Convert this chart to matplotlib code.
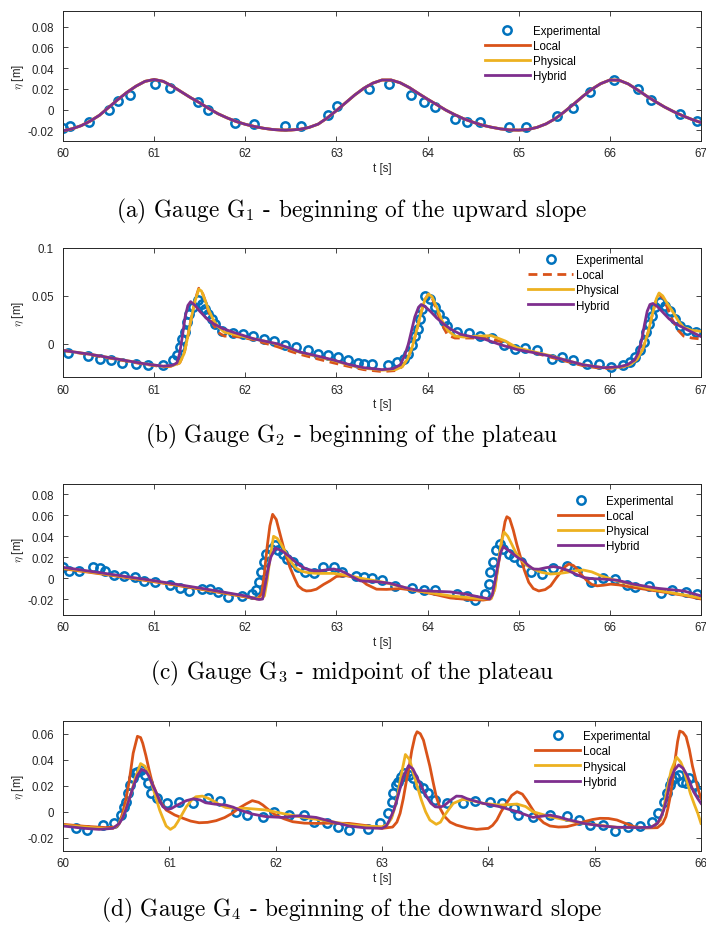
import numpy as np
import matplotlib
matplotlib.use("Agg")
import matplotlib.pyplot as plt

plt.rcParams['font.family'] = ['Liberation Sans', 'DejaVu Sans']
plt.rcParams['mathtext.fontset'] = 'cm'
plt.rcParams['axes.unicode_minus'] = False

# ---------------- colours ----------------
C_EXP = '#0072BD'
C_LOC = '#D95319'
C_PHY = '#EDB120'
C_HYB = '#7E2F8E'

series_names = ['Experimental', 'Local', 'Physical', 'Hybrid']
captions = [
    r'(a) Gauge $\mathrm{G}_1$ - beginning of the upward slope',
    r'(b) Gauge $\mathrm{G}_2$ - beginning of the plateau',
    r'(c) Gauge $\mathrm{G}_3$ - midpoint of the plateau',
    r'(d) Gauge $\mathrm{G}_4$ - beginning of the downward slope',
]
xlabel = 't [s]'
ylabel = r'$\eta$ [m]'

# ---------------- panel (a) ----------------
a_exp_t = [60.00, 60.08, 60.28, 60.51, 60.60, 60.74, 61.01, 61.17, 61.48, 61.59, 61.89, 62.10,
           62.44, 62.61, 62.91, 63.01, 63.36, 63.58, 63.82, 63.96, 64.08, 64.30, 64.43, 64.57,
           64.89, 65.08, 65.42, 65.60, 65.78, 66.05, 66.31, 66.45, 66.77, 66.96]
a_exp_y = [-0.0177, -0.0161, -0.0123, 0.0000, 0.0081, 0.0139, 0.0248, 0.0210, 0.0071, 0.0000,
           -0.0129, -0.0139, -0.0155, -0.0155, -0.0048, 0.0032, 0.0200, 0.0242, 0.0139, 0.0071,
           0.0023, -0.0087, -0.0119, -0.0119, -0.0171, -0.0171, -0.0065, 0.0016, 0.0168, 0.0281,
           0.0200, 0.0090, -0.0042, -0.0113]
a_mod_t = np.linspace(60.0, 67.0, 71)
a_mod_y = [-0.0205, -0.0185, -0.0155, -0.0110, -0.0055, 0.0020, 0.0095, 0.0165, 0.0225, 0.0272,
           0.0290, 0.0272, 0.0225, 0.0170, 0.0115, 0.0065, 0.0010, -0.0040, -0.0080, -0.0115,
           -0.0142, -0.0163, -0.0180, -0.0192, -0.0198, -0.0197, -0.0190, -0.0172, -0.0140, -0.0080,
           -0.0010, 0.0065, 0.0140, 0.0205, 0.0255, 0.0285, 0.0285, 0.0258, 0.0212, 0.0155,
           0.0100, 0.0048, -0.0005, -0.0050, -0.0090, -0.0122, -0.0150, -0.0170, -0.0186, -0.0196,
           -0.0198, -0.0192, -0.0172, -0.0138, -0.0088, -0.0022, 0.0050, 0.0125, 0.0195, 0.0250,
           0.0285, 0.0283, 0.0248, 0.0192, 0.0132, 0.0077, 0.0025, -0.0020, -0.0060, -0.0095,
           -0.0125]
a_loc_t, a_loc_y = a_mod_t, a_mod_y
a_phy_t, a_phy_y = a_mod_t, a_mod_y
a_hyb_t, a_hyb_y = a_mod_t, a_mod_y

# ---------------- panel (b) ----------------
b_exp_t = [60.06, 60.27, 60.41, 60.53, 60.65, 60.80, 60.93, 61.10, 61.21, 61.25, 61.28, 61.31,
           61.34, 61.36, 61.38, 61.43, 61.48, 61.52, 61.56, 61.59, 61.63, 61.67, 61.74, 61.87,
           61.98, 62.09, 62.20, 62.31, 62.44, 62.56, 62.69, 62.80, 62.91, 63.02, 63.13, 63.24,
           63.30, 63.39, 63.57, 63.66, 63.74, 63.79, 63.83, 63.86, 63.89, 63.92, 63.94, 63.97,
           64.03, 64.08, 64.13, 64.18, 64.21, 64.32, 64.45, 64.58, 64.71, 64.84, 64.96, 65.07,
           65.20, 65.37, 65.48, 65.60, 65.75, 65.88, 66.01, 66.14, 66.22, 66.28, 66.33, 66.37,
           66.40, 66.43, 66.46, 66.50, 66.55, 66.61, 66.66, 66.72, 66.77, 66.85, 66.94]
b_exp_y = [-0.0097, -0.0131, -0.0155, -0.0172, -0.0200, -0.0214, -0.0224, -0.0224, -0.0172,
           -0.0121, -0.0034, 0.0052, 0.0121, 0.0224, 0.0310, 0.0379, 0.0455, 0.0414, 0.0362,
           0.0310, 0.0259, 0.0207, 0.0138, 0.0114, 0.0103, 0.0086, 0.0052, 0.0034, -0.0017,
           -0.0034, -0.0069, -0.0103, -0.0121, -0.0138, -0.0172, -0.0200,
           -0.0214, -0.0214, -0.0224, -0.0190, -0.0155, -0.0103, -0.0017, 0.0086, 0.0155, 0.0259,
           0.0362, 0.0500, 0.0466, 0.0379, 0.0310, 0.0241, 0.0190, 0.0121, 0.0110, 0.0086,
           0.0062, -0.0017, -0.0052, -0.0041, -0.0069, -0.0155, -0.0138, -0.0172, -0.0214,
           -0.0214, -0.0241, -0.0224, -0.0190, -0.0138, -0.0069, 0.0017, 0.0121, 0.0207, 0.0293,
           0.0379, 0.0431, 0.0397, 0.0338, 0.0259, 0.0190, 0.0145, 0.0121]

b_hyb_t = [60.0, 60.3, 60.6, 60.9, 61.1, 61.2, 61.25, 61.28, 61.31, 61.34, 61.37, 61.40, 61.45,
           61.5, 61.58, 61.65, 61.75, 61.87, 62.0, 62.1, 62.2, 62.35, 62.5, 62.6, 62.8, 62.97,
           63.15, 63.3, 63.5, 63.62, 63.7, 63.75, 63.79, 63.83, 63.86, 63.9, 63.93, 63.97, 64.03,
           64.1, 64.17, 64.26, 64.36, 64.5, 64.62, 64.8, 64.98, 65.15, 65.35, 65.55, 65.71, 65.93,
           66.1, 66.19, 66.27, 66.31, 66.35, 66.38, 66.41, 66.44, 66.47, 66.52, 66.58, 66.65,
           66.72, 66.85, 67.0]
b_hyb_y = [-0.0069, -0.011, -0.016, -0.021, -0.0234, -0.0225, -0.020, -0.010, 0.008, 0.028,
           0.040, 0.044, 0.040, 0.034, 0.026, 0.021, 0.016, 0.012, 0.008, 0.005, 0.003, 0.0,
           -0.005, -0.0086, -0.013, -0.017, -0.022, -0.025, -0.027, -0.026, -0.022, -0.012, 0.0,
           0.016, 0.028, 0.038, 0.041, 0.039, 0.034, 0.027, 0.021, 0.015, 0.010, 0.007, 0.005,
           -0.001, -0.006, -0.009, -0.013, -0.018, -0.022, -0.025, -0.024, -0.022, -0.017,
           -0.010, 0.004, 0.020, 0.034, 0.041, 0.042, 0.039, 0.033, 0.026, 0.021, 0.0145, 0.0076]

b_phy_t = [60.0, 60.3, 60.6, 60.9, 61.1, 61.2, 61.28, 61.33, 61.37, 61.41, 61.45, 61.49, 61.52,
           61.56, 61.6, 61.65, 61.7, 61.77, 61.87, 62.0, 62.1, 62.2, 62.35, 62.5, 62.6, 62.8,
           62.97, 63.15, 63.3, 63.5, 63.65, 63.72, 63.78, 63.83, 63.88, 63.93, 63.97, 64.01,
           64.05, 64.1, 64.16, 64.22, 64.3, 64.4, 64.55, 64.7, 64.85, 64.98, 65.15, 65.35, 65.55,
           65.71, 65.93, 66.1, 66.22, 66.3, 66.36, 66.42, 66.47, 66.51, 66.54, 66.58, 66.63,
           66.68, 66.75, 66.81, 66.9, 67.0]
b_phy_y = [-0.0069, -0.011, -0.016, -0.021, -0.0236, -0.023, -0.020, -0.010, 0.008, 0.028,
           0.045, 0.057, 0.055, 0.045, 0.035, 0.025, 0.018, 0.012, 0.010, 0.007, 0.005, 0.003,
           -0.0005, -0.0055, -0.009, -0.0135, -0.0175, -0.0225, -0.0255, -0.0275, -0.027,
           -0.024, -0.016, -0.004, 0.014, 0.033, 0.046, 0.052, 0.049, 0.038, 0.024, 0.014, 0.008,
           0.007, 0.008, 0.0085, 0.003, -0.004, -0.008, -0.0125, -0.018, -0.022, -0.025, -0.0245,
           -0.022, -0.016, -0.006, 0.012, 0.032, 0.047, 0.053, 0.050, 0.042, 0.035, 0.024, 0.017,
           0.014, 0.013]

b_loc_t = b_phy_t
b_loc_y = [-0.007, -0.0115, -0.0165, -0.0215, -0.024, -0.0235, -0.020, -0.010, 0.008, 0.028,
           0.046, 0.058, 0.056, 0.045, 0.033, 0.020, 0.012, 0.008, 0.008, 0.006, 0.004, 0.001,
           -0.003, -0.008, -0.011, -0.016, -0.020, -0.024, -0.027, -0.029, -0.028, -0.024,
           -0.016, -0.004, 0.014, 0.033, 0.046, 0.052, 0.048, 0.035, 0.020, 0.009, 0.006, 0.006,
           0.006, 0.005, 0.001, -0.005, -0.009, -0.014, -0.019, -0.023, -0.026, -0.025, -0.022,
           -0.016, -0.006, 0.012, 0.032, 0.047, 0.052, 0.048, 0.038, 0.026, 0.014, 0.008, 0.006,
           0.005]

# ---------------- panel (c) ----------------
c_exp_t = [60.00, 60.07, 60.18, 60.33, 60.41, 60.46, 60.56, 60.67, 60.79, 60.89, 61.01, 61.17,
           61.28, 61.38, 61.52, 61.61, 61.70, 61.81, 61.96, 62.07, 62.12, 62.15, 62.17, 62.20,
           62.23, 62.28, 62.33, 62.36, 62.41, 62.46, 62.52, 62.58, 62.66, 62.75, 62.85, 62.97,
           63.06, 63.21, 63.30, 63.39, 63.50, 63.64, 63.83, 63.96, 64.08, 64.32, 64.43, 64.52,
           64.63, 64.67, 64.69, 64.72, 64.75, 64.79, 64.83, 64.89, 64.95, 65.02, 65.13, 65.26,
           65.38, 65.53, 65.64, 65.79, 65.93, 66.06, 66.19, 66.28, 66.43, 66.56, 66.68, 66.83,
           66.96]
c_exp_y = [0.0110, 0.0071, 0.0065, 0.0103, 0.0097, 0.0071, 0.0032, 0.0023, 0.0006, -0.0026,
           -0.0035, -0.0068, -0.0090, -0.0123, -0.0106, -0.0106, -0.0129, -0.0181, -0.0171,
           -0.0155, -0.0116, -0.0042, 0.0055, 0.0152, 0.0232, 0.0281, 0.0313, 0.0265, 0.0232,
           0.0184, 0.0152, 0.0103, 0.0055, 0.0045, 0.0103, 0.0110, 0.0055, 0.0023, 0.0013, 0.0000,
           -0.0019, -0.0074, -0.0097, -0.0116, -0.0116, -0.0148, -0.0171, -0.0210, -0.0155,
           -0.0058, 0.0055, 0.0152, 0.0265, 0.0323, 0.0281, 0.0232, 0.0200, 0.0152, 0.0055,
           0.0039, 0.0097, 0.0119, 0.0071, -0.0042, 0.0000, -0.0010, -0.0065, -0.0084, -0.0074,
           -0.0139, -0.0116, -0.0129, -0.0155]

c_hyb_t = [60.0, 60.5, 61.0, 61.5, 62.0, 62.15, 62.19, 62.22, 62.25, 62.28, 62.33, 62.38, 62.42,
           62.48, 62.53, 62.60, 62.67, 62.75, 62.82, 62.90, 62.97, 63.03, 63.10, 63.18, 63.26,
           63.33, 63.45, 63.59, 63.75, 63.88, 64.05, 64.25, 64.40, 64.51, 64.62, 64.68, 64.71,
           64.74, 64.77, 64.80, 64.83, 64.88, 64.94, 65.00, 65.05, 65.10, 65.16, 65.22, 65.30,
           65.38, 65.45, 65.53, 65.62, 65.71, 65.80, 65.93, 66.08, 66.26, 66.52, 66.81, 67.00]
c_hyb_y = [0.0103, 0.0040, -0.0025, -0.0095, -0.0170, -0.0205, -0.0200, -0.0060, 0.0090,
           0.0200, 0.0287, 0.0270, 0.0250, 0.0210, 0.0170, 0.0120, 0.0087, 0.0070, 0.0070,
           0.0080, 0.0087, 0.0075, 0.0050, 0.0010, -0.0026, -0.0030, -0.0035, -0.0050, -0.0090,
           -0.0116, -0.0125, -0.0132, -0.0150, -0.0170, -0.0190, -0.0200, -0.0160, -0.0030,
           0.0120, 0.0240, 0.0300, 0.0270, 0.0230, 0.0190, 0.0170, 0.0125, 0.0087, 0.0085,
           0.0100, 0.0110, 0.0100, 0.0077, 0.0040, 0.0006, -0.0005, -0.0010, -0.0020, -0.0058,
           -0.0097, -0.0123, -0.0170]

c_phy_t = [60.0, 60.5, 61.0, 61.5, 62.0, 62.17, 62.21, 62.24, 62.27, 62.31, 62.35, 62.39, 62.44,
           62.49, 62.55, 62.62, 62.70, 62.80, 62.97, 63.15, 63.26, 63.52, 63.88, 64.25, 64.61,
           64.70, 64.74, 64.78, 64.81, 64.84, 64.88, 64.92, 64.97, 65.02, 65.09, 65.16, 65.25,
           65.35, 65.45, 65.53, 65.62, 65.71, 65.80, 65.90, 66.08, 66.45, 66.81, 67.00]
c_phy_y = [0.0095, 0.0035, -0.0030, -0.0100, -0.0175, -0.0200, -0.0170, -0.0020, 0.0180,
           0.0400, 0.0380, 0.0330, 0.0250, 0.0170, 0.0100, 0.0065, 0.0050, 0.0045, 0.0045,
           0.0023, 0.0000, -0.0040, -0.0120, -0.0170, -0.0200, -0.0195, -0.0100, 0.0170, 0.0350,
           0.0440, 0.0400, 0.0330, 0.0240, 0.0180, 0.0120, 0.0087, 0.0055, 0.0039, 0.0045,
           0.0055, 0.0070, 0.0077, 0.0060, 0.0023, -0.0026, -0.0106, -0.0160, -0.0190]

c_loc_t = [60.0, 60.5, 61.0, 61.5, 62.0, 62.13, 62.18, 62.21, 62.24, 62.27, 62.30, 62.34, 62.38,
           62.43, 62.49, 62.54, 62.58, 62.63, 62.67, 62.72, 62.78, 62.86, 62.93, 63.00, 63.11,
           63.20, 63.26, 63.33, 63.44, 63.55, 63.70, 63.88, 64.05, 64.25, 64.45, 64.61, 64.69,
           64.73, 64.76, 64.79, 64.82, 64.85, 64.87, 64.90, 64.94, 64.98, 65.02, 65.06, 65.11,
           65.16, 65.22, 65.29, 65.35, 65.41, 65.46, 65.51, 65.55, 65.60, 65.64, 65.70, 65.75,
           65.80, 65.86, 65.93, 66.01, 66.10, 66.26, 66.45, 66.63, 66.81, 67.00]
c_loc_y = [0.0090, 0.0030, -0.0035, -0.0105, -0.0180, -0.0200, -0.0150, 0.0050, 0.0300, 0.0500,
           0.0610, 0.0560, 0.0426, 0.0260, 0.0103, 0.0000, -0.0074, -0.0110, -0.0123, -0.0120,
           -0.0106, -0.0060, -0.0026, 0.0016, 0.0023, 0.0005, -0.0010, -0.0060, -0.0106, -0.0108,
           -0.0100, -0.0120, -0.0150, -0.0190, -0.0205, -0.0210, -0.0200, -0.0120, 0.0040,
           0.0200, 0.0390, 0.0540, 0.0587, 0.0570, 0.0460, 0.0320, 0.0200, 0.0080, -0.0040,
           -0.0100, -0.0123, -0.0110, -0.0074, 0.0000, 0.0055, 0.0110, 0.0135, 0.0120, 0.0087,
           0.0020, -0.0026, -0.0060, -0.0074, -0.0068, -0.0058, -0.0065, -0.0090, -0.0115,
           -0.0139, -0.0165, -0.0200]

# ---------------- panel (d) ----------------
d_exp_t = [60.12, 60.23, 60.38, 60.48, 60.55, 60.57, 60.59, 60.61, 60.63, 60.66, 60.68, 60.70,
           60.73, 60.77, 60.80, 60.83, 60.88, 60.98, 61.09, 61.22, 61.36, 61.48, 61.63, 61.73,
           61.88, 61.98, 62.13, 62.27, 62.36, 62.48, 62.59, 62.69, 62.87, 62.98, 63.06, 63.09,
           63.10, 63.13, 63.15, 63.18, 63.21, 63.25, 63.29, 63.34, 63.39, 63.43, 63.50, 63.61,
           63.76, 63.87, 64.02, 64.13, 64.24, 64.28, 64.42, 64.58, 64.74, 64.85, 64.96, 65.08,
           65.19, 65.31, 65.43, 65.54, 65.60, 65.65, 65.68, 65.71, 65.73, 65.76, 65.79, 65.82,
           65.86, 65.89, 65.93, 65.98]
d_exp_y = [-0.0128, -0.0141, -0.0103, -0.0085, -0.0026, 0.0038, 0.0077, 0.0141, 0.0205, 0.0256,
           0.0295, 0.0308, 0.0321, 0.0282, 0.0218, 0.0141, 0.0103, 0.0064, 0.0077, 0.0064,
           0.0103, 0.0085, 0.0000, -0.0026, -0.0038, -0.0005, -0.0026, -0.0026, -0.0077, -0.0090,
           -0.0115, -0.0141, -0.0136, -0.0090, -0.0013, 0.0077, 0.0141, 0.0205, 0.0231, 0.0269,
           0.0295, 0.0282, 0.0256, 0.0205, 0.0179, 0.0141, 0.0090, 0.0069, 0.0069, 0.0085,
           0.0077, 0.0064, 0.0026, -0.0026, -0.0044, -0.0026, -0.0033, -0.0064, -0.0103, -0.0103,
           -0.0146, -0.0115, -0.0110, -0.0077, -0.0013, 0.0077, 0.0141, 0.0205, 0.0244, 0.0269,
           0.0282, 0.0231, 0.0218, 0.0256, 0.0205, 0.0154]

d_hyb_t = [60.00, 60.20, 60.34, 60.47, 60.53, 60.56, 60.59, 60.62, 60.66, 60.70, 60.74, 60.78,
           60.81, 60.84, 60.88, 60.91, 60.94, 60.98, 61.02, 61.06, 61.11, 61.16, 61.23, 61.29,
           61.34, 61.43, 61.53, 61.60, 61.66, 61.78, 61.91, 62.06, 62.22, 62.38, 62.53, 62.69,
           62.85, 63.00, 63.04, 63.07, 63.11, 63.14, 63.17, 63.20, 63.25, 63.29, 63.32, 63.37,
           63.42, 63.46, 63.50, 63.54, 63.58, 63.64, 63.70, 63.75, 63.80, 63.95, 64.11, 64.27,
           64.42, 64.50, 64.58, 64.66, 64.74, 64.90, 65.05, 65.21, 65.40, 65.53, 65.59, 65.62,
           65.65, 65.68, 65.71, 65.75, 65.79, 65.83, 65.87, 65.90, 65.93, 65.97, 66.00]
d_hyb_y = [-0.0110, -0.0128, -0.0136, -0.0128, -0.0090, -0.0050, 0.0013, 0.0090, 0.0190,
           0.0280, 0.0326, 0.0310, 0.0270, 0.0210, 0.0140, 0.0080, 0.0038, 0.0018, 0.0025,
           0.0044, 0.0065, 0.0085, 0.0100, 0.0090, 0.0069, 0.0058, 0.0051, 0.0035, 0.0013,
           -0.0018, -0.0038, -0.0044, -0.0031, -0.0044, -0.0077, -0.0110, -0.0125, -0.0128,
           -0.0110, -0.0064, 0.0010, 0.0090, 0.0180, 0.0270, 0.0354, 0.0330, 0.0280, 0.0195,
           0.0115, 0.0065, 0.0038, 0.0035, 0.0044, 0.0085, 0.0120, 0.0118, 0.0100, 0.0064,
           0.0038, 0.0000, -0.0044, -0.0035, -0.0026, -0.0040, -0.0059, -0.0090, -0.0108,
           -0.0120, -0.0122, -0.0120, -0.0090, -0.0045, 0.0013, 0.0110, 0.0240, 0.0320, 0.0360,
           0.0335, 0.0280, 0.0215, 0.0154, 0.0100, 0.0064]

d_phy_t = [60.00, 60.20, 60.40, 60.47, 60.52, 60.56, 60.60, 60.64, 60.68, 60.73, 60.77, 60.80,
           60.84, 60.88, 60.91, 60.94, 60.97, 61.01, 61.05, 61.08, 61.12, 61.16, 61.21, 61.25,
           61.31, 61.36, 61.41, 61.47, 61.53, 61.62, 61.72, 61.81, 61.91, 62.06, 62.22, 62.38,
           62.53, 62.69, 62.85, 63.00, 63.05, 63.09, 63.12, 63.15, 63.18, 63.22, 63.26, 63.29,
           63.33, 63.37, 63.41, 63.45, 63.51, 63.55, 63.58, 63.63, 63.67, 63.76, 63.85, 63.95,
           64.11, 64.20, 64.27, 64.35, 64.42, 64.58, 64.74, 64.90, 65.05, 65.21, 65.40, 65.53,
           65.59, 65.62, 65.65, 65.68, 65.72, 65.77, 65.81, 65.84, 65.87, 65.90, 65.94, 65.97,
           66.00]
d_phy_y = [-0.0103, -0.0118, -0.0130, -0.0128, -0.0100, -0.0040, 0.0050, 0.0140, 0.0260,
           0.0370, 0.0350, 0.0300, 0.0200, 0.0090, 0.0010, -0.0051, -0.0110, -0.0136, -0.0115,
           -0.0077, -0.0020, 0.0038, 0.0090, 0.0115, 0.0120, 0.0105, 0.0085, 0.0055, 0.0033,
           0.0025, 0.0026, 0.0020, 0.0013, -0.0013, -0.0038, -0.0058, -0.0077, -0.0100, -0.0112,
           -0.0115, -0.0100, -0.0050, 0.0030, 0.0140, 0.0280, 0.0440, 0.0400, 0.0310, 0.0200,
           0.0090, 0.0000, -0.0064, -0.0097, -0.0080, -0.0038, 0.0020, 0.0064, 0.0095, 0.0085,
           0.0064, 0.0051, 0.0055, 0.0059, 0.0040, 0.0000, -0.0038, -0.0065, -0.0090, -0.0105,
           -0.0120, -0.0122, -0.0120, -0.0090, -0.0064, 0.0030, 0.0167, 0.0320, 0.0420, 0.0380,
           0.0320, 0.0230, 0.0140, 0.0050, -0.0013, -0.0090]

d_loc_t = [60.00, 60.20, 60.40, 60.50, 60.53, 60.56, 60.59, 60.62, 60.66, 60.70, 60.73, 60.75,
           60.78, 60.81, 60.84, 60.88, 60.92, 60.97, 61.05, 61.13, 61.20, 61.28, 61.36, 61.44,
           61.52, 61.59, 61.66, 61.72, 61.78, 61.84, 61.88, 61.94, 62.00, 62.08, 62.16, 62.27,
           62.38, 62.53, 62.69, 62.88, 63.00, 63.10, 63.14, 63.17, 63.20, 63.23, 63.26, 63.28,
           63.31, 63.33, 63.36, 63.39, 63.42, 63.45, 63.48, 63.51, 63.55, 63.59, 63.64, 63.70,
           63.80, 63.89, 64.00, 64.04, 64.08, 64.12, 64.17, 64.22, 64.27, 64.32, 64.36, 64.41,
           64.46, 64.52, 64.58, 64.66, 64.74, 64.82, 64.90, 64.98, 65.05, 65.13, 65.21, 65.29,
           65.37, 65.48, 65.59, 65.64, 65.67, 65.69, 65.71, 65.74, 65.76, 65.78, 65.80, 65.83,
           65.86, 65.89, 65.92, 65.95, 65.97, 66.00]
d_loc_y = [-0.0097, -0.0112, -0.0122, -0.0118, -0.0090, -0.0013, 0.0090, 0.0220, 0.0450,
           0.0580, 0.0570, 0.0526, 0.0430, 0.0320, 0.0220, 0.0140, 0.0070, 0.0013, -0.0025,
           -0.0051, -0.0072, -0.0085, -0.0082, -0.0069, -0.0045, -0.0013, 0.0030, 0.0059, 0.0085,
           0.0072, 0.0051, 0.0010, -0.0026, -0.0055, -0.0077, -0.0088, -0.0090, -0.0088, -0.0090,
           -0.0110, -0.0128, -0.0118, -0.0080, -0.0013, 0.0100, 0.0240, 0.0370, 0.0470, 0.0580,
           0.0615, 0.0600, 0.0550, 0.0450, 0.0350, 0.0230, 0.0115, 0.0020, -0.0038, -0.0080,
           -0.0103, -0.0125, -0.0136, -0.0128, -0.0105, -0.0064, 0.0000, 0.0064, 0.0125, 0.0154,
           0.0135, 0.0090, 0.0025, -0.0038, -0.0085, -0.0110, -0.0118, -0.0115, -0.0098, -0.0077,
           -0.0060, -0.0051, -0.0052, -0.0064, -0.0090, -0.0115, -0.0125, -0.0123, -0.0090,
           -0.0038, 0.0030, 0.0115, 0.0280, 0.0420, 0.0540, 0.0620, 0.0610, 0.0577, 0.0480,
           0.0350, 0.0250, 0.0180, 0.0103]

# ---------------- axes settings ----------------
xlims = [(60, 67), (60, 67), (60, 67), (60, 66)]
ylims = [(-0.03, 0.095), (-0.035, 0.1), (-0.035, 0.09), (-0.03, 0.07)]
xticks = [[60, 61, 62, 63, 64, 65, 66, 67]] * 3 + [[60, 61, 62, 63, 64, 65, 66]]
yticks = [[-0.02, 0, 0.02, 0.04, 0.06, 0.08], [0, 0.05, 0.1],
          [-0.02, 0, 0.02, 0.04, 0.06, 0.08], [-0.02, 0, 0.02, 0.04, 0.06]]
yticklabels = [['-0.02', '0', '0.02', '0.04', '0.06', '0.08'], ['0', '0.05', '0.1'],
               ['-0.02', '0', '0.02', '0.04', '0.06', '0.08'], ['-0.02', '0', '0.02', '0.04', '0.06']]

panels = [
    (a_exp_t, a_exp_y, a_loc_t, a_loc_y, a_phy_t, a_phy_y, a_hyb_t, a_hyb_y, '-'),
    (b_exp_t, b_exp_y, b_loc_t, b_loc_y, b_phy_t, b_phy_y, b_hyb_t, b_hyb_y, '--'),
    (c_exp_t, c_exp_y, c_loc_t, c_loc_y, c_phy_t, c_phy_y, c_hyb_t, c_hyb_y, '-'),
    (d_exp_t, d_exp_y, d_loc_t, d_loc_y, d_phy_t, d_phy_y, d_hyb_t, d_hyb_y, '-'),
]

# layout in pixels (figure 706 x 928)
W, H = 706, 928
ax_left, ax_right = 63, 701
ax_tops = [12, 249, 485, 721.7]
ax_bots = [141.7, 378.3, 615.7, 851.7]
leg_anchor = [(0.661, 0.895), (0.729, 0.955), (0.776, 0.918), (0.740, 0.928)]
cap_baselines = [217, 442, 679, 916]

fig = plt.figure(figsize=(W / 100, H / 100), dpi=100)
fig.patch.set_facecolor('white')
GRAY = '#262626'
FS = 8.3
LW = 2.0

for i, p in enumerate(panels):
    et, ey, lt, ly, pt, py, ht, hy, lstyle = p
    top, bot = ax_tops[i], ax_bots[i]
    ax = fig.add_axes([ax_left / W, 1 - bot / H, (ax_right - ax_left) / W, (bot - top) / H])
    hexp, = ax.plot(et, ey, linestyle='none', marker='o', markersize=6.0,
                    markerfacecolor='none', markeredgecolor=C_EXP, markeredgewidth=1.8)
    if lstyle == '--':
        hloc, = ax.plot(lt, ly, color=C_LOC, lw=LW, linestyle=(0, (3.2, 2.0)))
    else:
        hloc, = ax.plot(lt, ly, color=C_LOC, lw=LW)
    hphy, = ax.plot(pt, py, color=C_PHY, lw=LW)
    hhyb, = ax.plot(ht, hy, color=C_HYB, lw=LW)

    ax.set_xlim(*xlims[i])
    ax.set_ylim(*ylims[i])
    ax.set_xticks(xticks[i])
    ax.set_xticklabels([str(v) for v in xticks[i]])
    ax.set_yticks(yticks[i])
    ax.set_yticklabels(yticklabels[i])
    ax.tick_params(direction='in', length=3.8, width=0.6, top=True, right=True,
                   labelsize=FS, colors=GRAY, labelcolor=GRAY)
    ax.tick_params(axis='x', pad=4.5)
    ax.tick_params(axis='y', pad=6.5)
    for s in ax.spines.values():
        s.set_linewidth(0.7)
        s.set_color(GRAY)
    hpx = bot - top
    ax.set_xlabel(xlabel, fontsize=FS, color=GRAY)
    ax.xaxis.set_label_coords(0.5, -21.0 / hpx)
    ax.set_ylabel(ylabel, fontsize=FS, color=GRAY)
    ax.yaxis.set_label_coords((26 - ax_left) / (ax_right - ax_left), 0.5)

    ax.legend([hexp, hloc, hphy, hhyb], series_names, loc='upper left',
              bbox_to_anchor=leg_anchor[i], frameon=False, borderpad=0, borderaxespad=0,
              handlelength=3.9, handletextpad=0.25, labelspacing=0.28, fontsize=FS,
              numpoints=1)

    fig.text(352 / W, 1 - cap_baselines[i] / H, captions[i], ha='center', va='baseline',
             fontfamily='cmr10', fontsize=16.8, color='black')

fig.savefig('out.png', dpi=100, facecolor='white')
